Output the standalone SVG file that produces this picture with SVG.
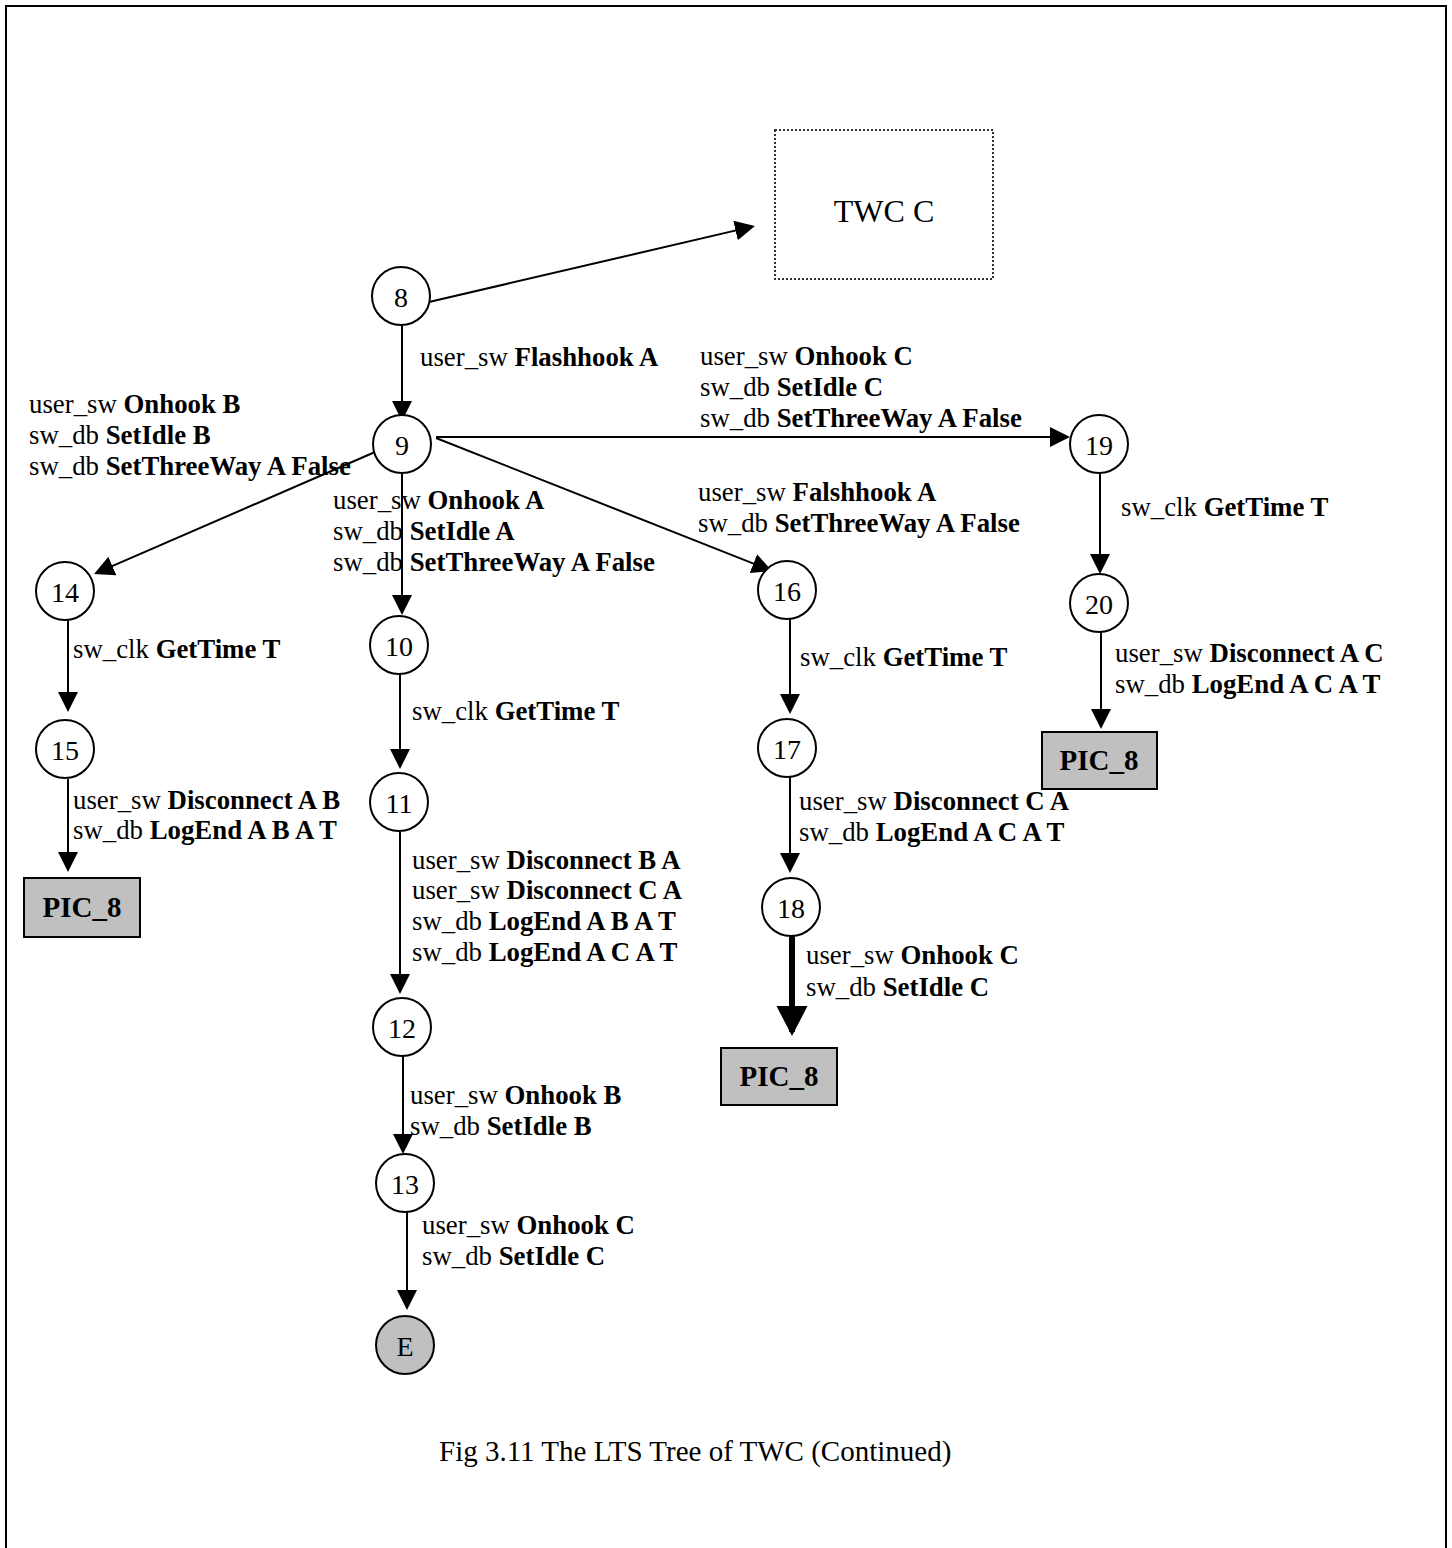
<svg xmlns="http://www.w3.org/2000/svg" width="1452" height="1548" viewBox="0 0 1452 1548">
  <style>
    .frame { fill: #ffffff; stroke: #000000; stroke-width: 2; }
    .state { fill: #ffffff; stroke: #000000; stroke-width: 2; }
    .final { fill: #c0c0c0; stroke: #000000; stroke-width: 2; }
    .ref { fill: #c0c0c0; stroke: #000000; stroke-width: 2; }
    .proc { fill: #ffffff; stroke: #333333; stroke-width: 2; stroke-dasharray: 2 2; }
    .num { font-family: "Liberation Serif", "Times New Roman", serif; font-size: 28px; fill: #000000; text-anchor: middle; }
    .reftxt { font-family: "Liberation Serif", "Times New Roman", serif; font-size: 29px; font-weight: bold; fill: #000000; text-anchor: middle; }
    .lbl { font-family: "Liberation Serif", "Times New Roman", serif; font-size: 26.8px; fill: #000000; }
    .lbl tspan.b { font-weight: bold; }
    .cap { font-family: "Liberation Serif", "Times New Roman", serif; font-size: 29px; fill: #000000; }
    .edge { stroke: #000000; stroke-width: 2; fill: none; marker-end: url(#arrow); }
    .edge-bold { stroke: #000000; stroke-width: 6; fill: none; marker-end: url(#arrow-bold); }
  </style>
  <defs>
    <marker id="arrow" markerUnits="userSpaceOnUse" markerWidth="22" markerHeight="22" refX="16" refY="10" orient="auto">
      <path d="M0,0 L20,10 L0,20 z" fill="#000000"/>
    </marker>
    <marker id="arrow-bold" markerUnits="userSpaceOnUse" markerWidth="32" markerHeight="32" refX="26" refY="15.5" orient="auto">
      <path d="M0,0 L30,15.5 L0,31 z" fill="#000000"/>
    </marker>
  </defs>

  <!-- page frame -->
  <rect class="frame" x="6" y="6" width="1440" height="1580"/>

  <!-- transitions -->
  <g id="connectors">
    <line class="edge" x1="429" y1="302" x2="751.1" y2="226.9"/>
    <line class="edge" x1="402" y1="325" x2="402" y2="417"/>
    <line class="edge" x1="375" y1="452" x2="97.7" y2="572.4"/>
    <line class="edge" x1="402" y1="474" x2="402" y2="611"/>
    <line class="edge" x1="436" y1="438" x2="768.3" y2="569.5"/>
    <line class="edge" x1="436" y1="437" x2="1066" y2="437"/>
    <line class="edge" x1="68" y1="620" x2="68" y2="708"/>
    <line class="edge" x1="68" y1="779" x2="68" y2="868"/>
    <line class="edge" x1="400" y1="674" x2="400" y2="765"/>
    <line class="edge" x1="400" y1="832" x2="400" y2="990"/>
    <line class="edge" x1="403" y1="1056" x2="403" y2="1150"/>
    <line class="edge" x1="407" y1="1212" x2="407" y2="1306"/>
    <line class="edge" x1="790" y1="619" x2="790" y2="710"/>
    <line class="edge" x1="790" y1="777" x2="790" y2="869"/>
    <line class="edge-bold" x1="792" y1="936" x2="792" y2="1032"/>
    <line class="edge" x1="1100" y1="473" x2="1100" y2="570"/>
    <line class="edge" x1="1101" y1="632" x2="1101" y2="725"/>
  </g>

  <!-- transition labels -->
  <g id="labels">
    <text class="lbl" x="420" y="366">user_sw <tspan class="b">Flashhook A</tspan></text>

    <text class="lbl" x="29" y="413">user_sw <tspan class="b">Onhook B</tspan></text>
    <text class="lbl" x="29" y="444">sw_db <tspan class="b">SetIdle B</tspan></text>
    <text class="lbl" x="29" y="475">sw_db <tspan class="b">SetThreeWay A False</tspan></text>

    <text class="lbl" x="333" y="509">user_sw <tspan class="b">Onhook A</tspan></text>
    <text class="lbl" x="333" y="540">sw_db <tspan class="b">SetIdle A</tspan></text>
    <text class="lbl" x="333" y="571">sw_db <tspan class="b">SetThreeWay A False</tspan></text>

    <text class="lbl" x="700" y="365">user_sw <tspan class="b">Onhook C</tspan></text>
    <text class="lbl" x="700" y="396">sw_db <tspan class="b">SetIdle C</tspan></text>
    <text class="lbl" x="700" y="427">sw_db <tspan class="b">SetThreeWay A False</tspan></text>

    <text class="lbl" x="698" y="501">user_sw <tspan class="b">Falshhook A</tspan></text>
    <text class="lbl" x="698" y="532">sw_db <tspan class="b">SetThreeWay A False</tspan></text>

    <text class="lbl" x="73" y="658">sw_clk <tspan class="b">GetTime T</tspan></text>
    <text class="lbl" x="73" y="809">user_sw <tspan class="b">Disconnect A B</tspan></text>
    <text class="lbl" x="73" y="839">sw_db <tspan class="b">LogEnd A B A T</tspan></text>

    <text class="lbl" x="412" y="720">sw_clk <tspan class="b">GetTime T</tspan></text>
    <text class="lbl" x="412" y="869">user_sw <tspan class="b">Disconnect B A</tspan></text>
    <text class="lbl" x="412" y="899">user_sw <tspan class="b">Disconnect C A</tspan></text>
    <text class="lbl" x="412" y="930">sw_db <tspan class="b">LogEnd A B A T</tspan></text>
    <text class="lbl" x="412" y="961">sw_db <tspan class="b">LogEnd A C A T</tspan></text>

    <text class="lbl" x="410" y="1104">user_sw <tspan class="b">Onhook B</tspan></text>
    <text class="lbl" x="410" y="1135">sw_db <tspan class="b">SetIdle B</tspan></text>

    <text class="lbl" x="422" y="1234">user_sw <tspan class="b">Onhook C</tspan></text>
    <text class="lbl" x="422" y="1265">sw_db <tspan class="b">SetIdle C</tspan></text>

    <text class="lbl" x="800" y="666">sw_clk <tspan class="b">GetTime T</tspan></text>
    <text class="lbl" x="799" y="810">user_sw <tspan class="b">Disconnect C A</tspan></text>
    <text class="lbl" x="799" y="841">sw_db <tspan class="b">LogEnd A C A T</tspan></text>
    <text class="lbl" x="806" y="964">user_sw <tspan class="b">Onhook C</tspan></text>
    <text class="lbl" x="806" y="996">sw_db <tspan class="b">SetIdle C</tspan></text>

    <text class="lbl" x="1121" y="516">sw_clk <tspan class="b">GetTime T</tspan></text>
    <text class="lbl" x="1115" y="662">user_sw <tspan class="b">Disconnect A C</tspan></text>
    <text class="lbl" x="1115" y="693">sw_db <tspan class="b">LogEnd A C A T</tspan></text>
  </g>

  <!-- states -->
  <g id="twc-c"><rect class="proc" x="775" y="130" width="218" height="149"/><text class="num" x="884" y="222" style="font-size:32px">TWC C</text></g>
  <g id="s8"><circle class="state" cx="401" cy="296" r="29"/><text class="num" x="401" y="307">8</text></g>
  <g id="s9"><circle class="state" cx="402" cy="444" r="29"/><text class="num" x="402" y="455">9</text></g>
  <g id="s10"><circle class="state" cx="399" cy="645" r="29"/><text class="num" x="399" y="656">10</text></g>
  <g id="s11"><circle class="state" cx="399" cy="802" r="29"/><text class="num" x="399" y="813">11</text></g>
  <g id="s12"><circle class="state" cx="402" cy="1027" r="29"/><text class="num" x="402" y="1038">12</text></g>
  <g id="s13"><circle class="state" cx="405" cy="1183" r="29"/><text class="num" x="405" y="1194">13</text></g>
  <g id="sE"><circle class="final" cx="405" cy="1345" r="29"/><text class="num" x="405" y="1356">E</text></g>
  <g id="s14"><circle class="state" cx="65" cy="591" r="29"/><text class="num" x="65" y="602">14</text></g>
  <g id="s15"><circle class="state" cx="65" cy="749" r="29"/><text class="num" x="65" y="760">15</text></g>
  <g id="s16"><circle class="state" cx="787" cy="590" r="29"/><text class="num" x="787" y="601">16</text></g>
  <g id="s17"><circle class="state" cx="787" cy="748" r="29"/><text class="num" x="787" y="759">17</text></g>
  <g id="s18"><circle class="state" cx="791" cy="907" r="29"/><text class="num" x="791" y="918">18</text></g>
  <g id="s19"><circle class="state" cx="1099" cy="444" r="29"/><text class="num" x="1099" y="455">19</text></g>
  <g id="s20"><circle class="state" cx="1099" cy="603" r="29"/><text class="num" x="1099" y="614">20</text></g>

  <!-- references back to PIC_8 -->
  <g id="pic8-left"><rect class="ref" x="24" y="878" width="116" height="59"/><text class="reftxt" x="82" y="917">PIC_8</text></g>
  <g id="pic8-mid"><rect class="ref" x="721" y="1048" width="116" height="57"/><text class="reftxt" x="779" y="1086">PIC_8</text></g>
  <g id="pic8-right"><rect class="ref" x="1042" y="732" width="115" height="57"/><text class="reftxt" x="1099" y="770">PIC_8</text></g>

  <text class="cap" x="439" y="1461">Fig 3.11 The LTS Tree of TWC (Continued)</text>
</svg>
